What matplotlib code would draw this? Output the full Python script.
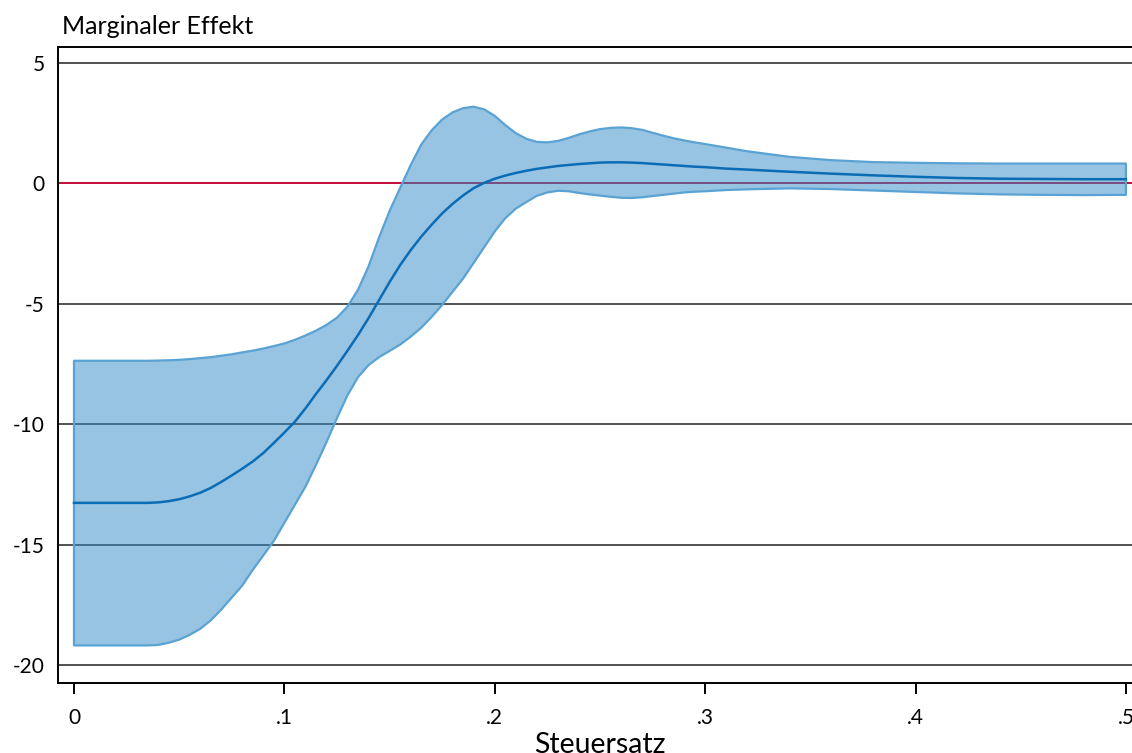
import matplotlib
matplotlib.use('Agg')
import matplotlib.pyplot as plt

# tax rate grid (Steuersatz)
steuersatz = [0.00, 0.01, 0.02, 0.03, 0.035, 0.04, 0.045, 0.05, 0.055, 0.06,
              0.065, 0.07, 0.075, 0.08, 0.085, 0.09, 0.095, 0.10, 0.105, 0.11,
              0.115, 0.12, 0.125, 0.13, 0.135, 0.14, 0.145, 0.15, 0.155, 0.16,
              0.165, 0.17, 0.175, 0.18, 0.185, 0.19, 0.195, 0.20, 0.205, 0.21,
              0.215, 0.22, 0.225, 0.23, 0.235, 0.24, 0.245, 0.25, 0.255, 0.26,
              0.265, 0.27, 0.275, 0.28, 0.285, 0.29, 0.295, 0.30, 0.31, 0.32,
              0.34, 0.36, 0.38, 0.40, 0.42, 0.44, 0.46, 0.48, 0.50]

effekt = [-13.27, -13.27, -13.27, -13.27, -13.27, -13.25, -13.2, -13.12, -13.0, -12.85,
          -12.65, -12.4, -12.13, -11.85, -11.55, -11.2, -10.78, -10.35, -9.9, -9.35,
          -8.75, -8.18, -7.58, -6.95, -6.3, -5.6, -4.85, -4.1, -3.4, -2.78,
          -2.22, -1.72, -1.25, -0.85, -0.5, -0.2, 0.02, 0.19, 0.32, 0.43,
          0.52, 0.6, 0.66, 0.72, 0.76, 0.8, 0.83, 0.86, 0.87, 0.87,
          0.86, 0.84, 0.81, 0.78, 0.75, 0.72, 0.69, 0.67, 0.61, 0.57,
          0.48, 0.40, 0.33, 0.27, 0.22, 0.19, 0.18, 0.17, 0.17]

ci_oben = [-7.37, -7.37, -7.37, -7.37, -7.37, -7.36, -7.35, -7.33, -7.3, -7.26,
           -7.22, -7.16, -7.1, -7.02, -6.95, -6.86, -6.76, -6.65, -6.5, -6.32,
           -6.12, -5.88, -5.58, -5.12, -4.42, -3.45, -2.25, -1.15, -0.2, 0.75,
           1.6, 2.2, 2.65, 2.95, 3.12, 3.18, 3.07, 2.8, 2.42, 2.08,
           1.85, 1.72, 1.70, 1.76, 1.88, 2.03, 2.15, 2.25, 2.3, 2.32,
           2.29, 2.22, 2.1, 1.98, 1.87, 1.78, 1.7, 1.63, 1.48, 1.33,
           1.1, 0.96, 0.88, 0.85, 0.83, 0.82, 0.82, 0.82, 0.82]

ci_unten = [-19.19, -19.19, -19.19, -19.19, -19.19, -19.17, -19.08, -18.95, -18.75, -18.5,
            -18.15, -17.7, -17.2, -16.7, -16.05, -15.45, -14.85, -14.1, -13.35, -12.6,
            -11.7, -10.75, -9.75, -8.8, -8.05, -7.55, -7.22, -6.96, -6.7, -6.37,
            -6.0, -5.55, -5.05, -4.5, -3.95, -3.3, -2.65, -2.0, -1.45, -1.05,
            -0.78, -0.52, -0.38, -0.31, -0.33, -0.4, -0.46, -0.51, -0.56, -0.6,
            -0.61, -0.58, -0.53, -0.48, -0.43, -0.38, -0.35, -0.33, -0.28, -0.25,
            -0.21, -0.24, -0.3, -0.36, -0.42, -0.46, -0.48, -0.49, -0.48]

y_ticks = [5, 0, -5, -10, -15, -20]
y_labels = ['5', '0', '-5', '-10', '-15', '-20']
x_ticks = [0, 0.1, 0.2, 0.3, 0.4, 0.5]
x_labels = ['0', '.1', '.2', '.3', '.4', '.5']

plt.rcParams['font.family'] = ['Lato', 'DejaVu Sans']

W, H = 1132, 753
fig = plt.figure(figsize=(W / 100, H / 100), dpi=100)
ax = fig.add_axes([58 / W, 70 / H, 1 - 58 / W, (683 - 47) / H])

ax.set_xlim(-0.0076, 0.5029)
ax.set_ylim(-20.75, 5.66)

for t in y_ticks:
    ax.axhline(t, color='#222222', linewidth=1.1, zorder=1)
ax.axhline(0, color='#c8103e', linewidth=1.4, zorder=1.5)

# confidence band as a closed polygon (outline includes the vertical ends)
poly_x = steuersatz + steuersatz[::-1]
poly_y = ci_oben + ci_unten[::-1]
ax.fill(poly_x, poly_y, facecolor=(0.19, 0.545, 0.78, 0.5),
        edgecolor='#5aa2d4', linewidth=1.6, joinstyle='round', zorder=2)
ax.plot(steuersatz, effekt, color='#0b6cb6', linewidth=1.8,
        solid_joinstyle='round', zorder=3)

ax.set_yticks(y_ticks)
ax.set_yticklabels(y_labels)
ax.set_xticks(x_ticks)
ax.set_xticklabels(x_labels)
ax.tick_params(axis='y', length=0, pad=9.5, labelsize=15)
ax.tick_params(axis='x', length=8, width=1.4, pad=10, labelsize=15)

for side in ['left', 'top', 'bottom']:
    ax.spines[side].set_linewidth(1.4)
    ax.spines[side].set_color('black')
ax.spines['right'].set_visible(False)

# the axis title sits partly below the lower edge, as in the reference
ax.set_xlabel('Steuersatz', fontsize=20.5, va='baseline')
ax.xaxis.set_label_coords((600 - 58) / (W - 58), -(753 - 683) / (683 - 47))
fig.text(62 / W, 1 - 34 / H, 'Marginaler Effekt', fontsize=18,
         ha='left', va='baseline')

plt.savefig('out.png', dpi=100)
plt.close()
